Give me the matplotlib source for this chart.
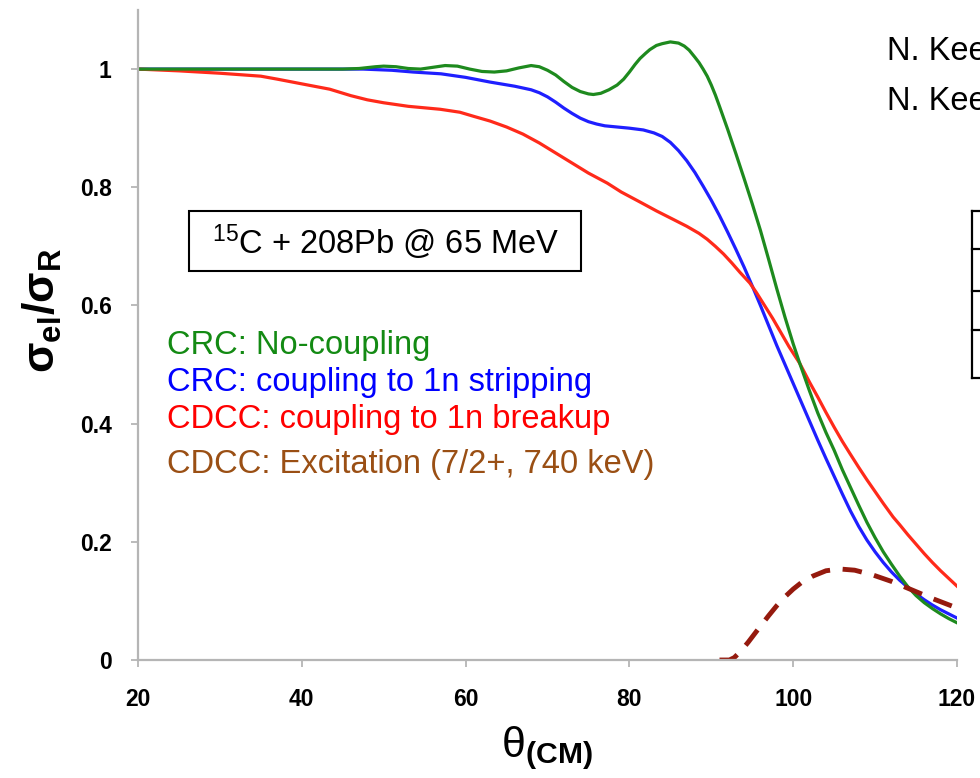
import matplotlib
matplotlib.use('Agg')
import matplotlib.pyplot as plt
from matplotlib.patches import Rectangle
from matplotlib.lines import Line2D

plt.rcParams['font.family'] = ['Liberation Sans', 'DejaVu Sans']
plt.rcParams['mathtext.fontset'] = 'custom'
plt.rcParams['mathtext.rm'] = 'Liberation Sans'
plt.rcParams['mathtext.it'] = 'Liberation Sans:italic'
plt.rcParams['mathtext.bf'] = 'Liberation Sans:bold'

# sigma_el / sigma_R vs theta (CM)
theta_nocoup = [20, 30, 40, 45, 47, 49, 50, 51.5, 53, 54.5, 56, 57.5, 59, 60.5, 62, 63.5, 65,
                66.5, 68, 69, 70, 71, 72, 73, 74, 75, 75.6, 76.5, 77.5, 78.5, 79.3, 80, 80.7,
                81.3, 82, 82.5, 83.3, 84, 85, 86, 86.7, 87.3, 88, 88.5, 89, 89.5, 90, 90.5,
                91, 92, 93, 94, 95, 96, 97, 98, 99, 100, 100.8, 102, 103, 104, 105, 106, 107,
                108, 109, 110, 111, 112, 113, 114, 115, 116, 117, 118, 119, 120]
ratio_nocoup = [1.0, 1.0, 1.0, 1.0, 1.001, 1.004, 1.005, 1.004, 1.001, 1.0, 1.003, 1.006,
                1.005, 1.0, 0.996, 0.995, 0.997, 1.002, 1.006, 1.004, 0.998, 0.99, 0.979,
                0.969, 0.962, 0.958, 0.957, 0.959, 0.965, 0.973, 0.983, 0.995, 1.008, 1.018,
                1.027, 1.033, 1.04, 1.043, 1.046, 1.044, 1.039, 1.032, 1.02, 1.011, 1.0,
                0.988, 0.973, 0.956, 0.937, 0.898, 0.857, 0.815, 0.772, 0.727, 0.678, 0.628,
                0.58, 0.535, 0.502, 0.455, 0.418, 0.385, 0.355, 0.322, 0.292, 0.262, 0.233,
                0.207, 0.183, 0.162, 0.142, 0.124, 0.109, 0.097, 0.087, 0.078, 0.07, 0.063]

theta_strip = [20, 30, 40, 47.5, 51, 53.6, 57, 60, 63, 66, 68, 69, 70, 71, 72, 73, 74, 75, 76,
               77, 78.5, 80, 81.7, 83, 84, 85, 86, 87, 88, 89, 90, 91, 92, 93, 94, 95, 96, 97,
               98, 99, 100, 101, 102, 103, 104, 105, 106, 107, 108, 109, 110, 111, 112, 113,
               114, 115, 116, 117, 118, 119, 120]
ratio_strip = [1.0, 1.0, 1.0, 1.0, 0.998, 0.995, 0.992, 0.986, 0.978, 0.971, 0.965, 0.96,
               0.953, 0.944, 0.934, 0.925, 0.917, 0.911, 0.907, 0.904, 0.902, 0.9, 0.897,
               0.892, 0.886, 0.876, 0.862, 0.845, 0.825, 0.802, 0.778, 0.752, 0.724, 0.695,
               0.665, 0.633, 0.6, 0.566, 0.532, 0.5, 0.468, 0.436, 0.404, 0.372, 0.341, 0.311,
               0.281, 0.252, 0.226, 0.203, 0.183, 0.165, 0.149, 0.135, 0.123, 0.112, 0.102,
               0.093, 0.085, 0.078, 0.071]

theta_breakup = [20, 25, 30, 33, 35, 37, 40, 43.4, 46, 48, 50, 53, 56.9, 59.3, 61, 63, 65, 67,
                 69, 71, 73, 75, 77.3, 79, 81.3, 83.3, 85.3, 87, 88.5, 89.5, 90.5, 91.5, 92.5,
                 93.5, 94.7, 95.5, 96.5, 97.5, 98.5, 99.5, 100.8, 102, 103, 104, 105, 106,
                 106.9, 108, 109, 110, 111, 112.2, 113, 114, 115, 116, 117, 118, 119, 120]
ratio_breakup = [1.0, 0.997, 0.993, 0.99, 0.988, 0.983, 0.975, 0.966, 0.955, 0.948, 0.943,
                 0.937, 0.932, 0.927, 0.92, 0.912, 0.902, 0.89, 0.875, 0.858, 0.841, 0.824,
                 0.807, 0.792, 0.775, 0.76, 0.746, 0.734, 0.722, 0.712, 0.70, 0.687, 0.672,
                 0.656, 0.638, 0.622, 0.6, 0.578, 0.554, 0.53, 0.502, 0.47, 0.445, 0.419,
                 0.394, 0.37, 0.35, 0.326, 0.305, 0.285, 0.265, 0.242, 0.229, 0.212, 0.196,
                 0.18, 0.165, 0.151, 0.138, 0.125]

theta_exc = [91, 92.2, 92.8, 93.6, 94.5, 95.6, 97, 98, 99, 100, 101, 102.4, 104, 105.7, 107.5,
             109.7, 112, 114.6, 117, 120]
ratio_exc = [0.0, 0.0, 0.004, 0.015, 0.03, 0.05, 0.075, 0.092, 0.107, 0.12, 0.131, 0.142,
             0.151, 0.154, 0.152, 0.144, 0.133, 0.118, 0.104, 0.088]

labels = ['CRC: No-coupling', 'CRC: coupling to 1n stripping',
          'CDCC: coupling to 1n breakup', 'CDCC: Excitation (7/2+, 740 keV)']
label_colors = ['#138a13', '#0000ff', '#ff0000', '#9a4f14']

fig = plt.figure(figsize=(9.8, 7.78), dpi=100)
ax = fig.add_axes([138/980, 1 - 660/778, 819/980, 650/778])

ax.plot(theta_strip, ratio_strip, color='#1f1fff', lw=2.3)
ax.plot(theta_breakup, ratio_breakup, color='#ff2a1a', lw=2.3)
ax.plot(theta_nocoup, ratio_nocoup, color='#1e8a1e', lw=2.3)
ax.plot(theta_exc, ratio_exc, color='#951a0e', lw=3.5, linestyle=(0, (4, 2.6)))

ax.set_xlim(20, 120)
ax.set_ylim(0, 1.1)
ax.set_xticks([20, 40, 60, 80, 100, 120])
ax.set_yticks([0, 0.2, 0.4, 0.6, 0.8, 1])
ax.set_yticklabels(['0', '0.2', '0.4', '0.6', '0.8', '1'])
for s in ['top', 'right']:
    ax.spines[s].set_visible(False)
for s in ['left', 'bottom']:
    ax.spines[s].set_color('#b5b5b5')
    ax.spines[s].set_linewidth(1.6)
ax.tick_params(axis='both', colors='#b5b5b5', length=5, width=1.3, labelcolor='black',
               labelsize=16.5)
ax.tick_params(axis='x', pad=15)
ax.tick_params(axis='y', pad=14)
for t in ax.get_xticklabels() + ax.get_yticklabels():
    t.set_fontweight('bold')

# annotation box
ax.add_patch(Rectangle((26.2, 0.658), 47.9, 0.102, fill=False, ec='black', lw=1.5))
ax.text(50.2, 0.687, r'$^{15}$C + 208Pb @ 65 MeV', fontsize=23.5, ha='center', va='baseline')

# coloured legend text
for lab, col, yb in zip(labels, label_colors, [0.518, 0.455, 0.392, 0.316]):
    ax.text(23.5, yb, lab, color=col, fontsize=23.5, ha='left', va='baseline')

fig.text(0.043, 1 - 310/778, r'$\mathbf{\sigma_{el}/\sigma_R}$', rotation=90,
         fontsize=32, ha='center', va='center')
fig.text(547/980, 1 - 748/778, r'$\mathrm{\theta}_{\mathbf{(CM)}}$', fontsize=31,
         ha='center', va='center')

# text and table cut off at the right edge of the slide
fig.text(887/980, 1 - 60/778, 'N. Kee', fontsize=23.5, va='baseline')
fig.text(887/980, 1 - 110/778, 'N. Kee', fontsize=23.5, va='baseline')
xl = 972/980
fig.add_artist(Line2D([xl, xl], [1 - 211/778, 1 - 378/778], color='black', lw=1.6,
                      transform=fig.transFigure))
for yy in [211, 249, 291, 330, 378]:
    fig.add_artist(Line2D([xl, 1.0], [1 - yy/778, 1 - yy/778], color='black', lw=1.6,
                          transform=fig.transFigure))

fig.savefig('out.png', dpi=100)
